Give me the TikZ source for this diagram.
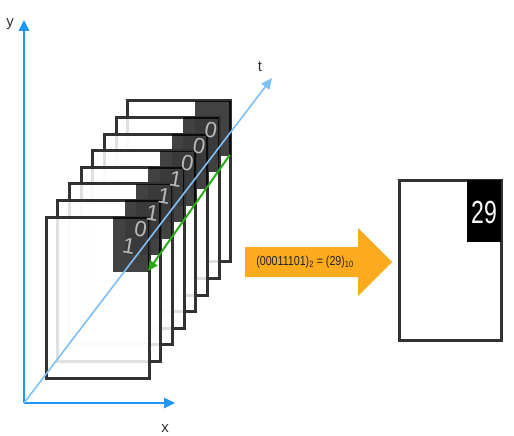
\documentclass[tikz,border=0pt]{standalone}
\usepackage{fontspec}
\setmainfont{Liberation Sans}
\usetikzlibrary{arrows.meta}
\definecolor{axisblue}{RGB}{30,150,250}
\definecolor{timeblue}{RGB}{125,192,250}
\definecolor{bitgreen}{RGB}{40,172,20}
\definecolor{arroworange}{RGB}{252,170,30}
\definecolor{framegray}{RGB}{50,50,50}
\begin{document}
\begin{tikzpicture}[x=1pt,y=-1pt,
  plane/.style={line width=3pt, draw=framegray, fill=white, fill opacity=0.85},
  darkbox/.style={fill=black, fill opacity=0.74},
  bitlabel/.style={text=gray!55, font=\fontsize{22}{22}\selectfont, rotate=-10, inner sep=0pt},
  axis/.style={line width=2.5pt, draw=axisblue, -{Triangle[length=11pt,width=10pt]}},
  axislabel/.style={text=framegray, font=\fontsize{15}{15}\selectfont, inner sep=0pt}]
  \useasboundingbox (0,0) rectangle (514,436);
  % axes
  \coordinate (o) at (24,403);
  \coordinate (ytip) at (24,20);
  \coordinate (xtip) at (175,403);
  \coordinate (ttip) at (272,78);
  \draw[axis] (o) -- (ytip);
  \draw[axis] (o) -- (xtip);
  \node[axislabel] (ylab) at (10,24) {y};
  \node[axislabel] (xlab) at (165,429) {x};
  \node[axislabel] (tlab) at (260,67) {t};
  % bit planes, back to front
  \foreach \k in {7,6,...,0}{
    \begin{scope}[shift={(11.7*\k,-16.6*\k)}]
      \draw[plane] (46,217) rectangle (149,378);
      \fill[darkbox] (113,217) rectangle (149,272);
      \coordinate (corner\k) at (148,271);
    \end{scope}
  }
  \draw[line width=1.6pt, draw=timeblue, -{Triangle[length=11pt,width=10pt]}] (o) -- (ttip);
  % bits, LSB in front
  \foreach \k/\b in {0/1,1/0,2/1,3/1,4/1,5/0,6/0,7/0}{
    \node[bitlabel] (bit\k) at (129+11.7*\k,246-16.6*\k) {\b};
  }
  \draw[line width=2pt, draw=bitgreen, -{Triangle[length=10pt,width=9pt]}] (corner7) -- (corner0);
  % conversion arrow
  \fill[arroworange] (245,247) -- (358,247) -- (358,228) -- (392,262)
    -- (358,296) -- (358,277) -- (245,277) -- cycle;
  \node[text=black!85, font=\fontsize{13}{13}\selectfont, xscale=0.82] (conv) at (305,262)
    {(00011101)\textsubscript{2} = (29)\textsubscript{10}};
  % decimal result
  \draw[line width=3pt, draw=framegray] (399,180) rectangle (501,340);
  \fill[black] (467,180) rectangle (501,242);
  \node[text=white, font=\fontsize{32}{32}\selectfont, xscale=0.72] (dec) at (484,212) {29};
\end{tikzpicture}
\end{document}
